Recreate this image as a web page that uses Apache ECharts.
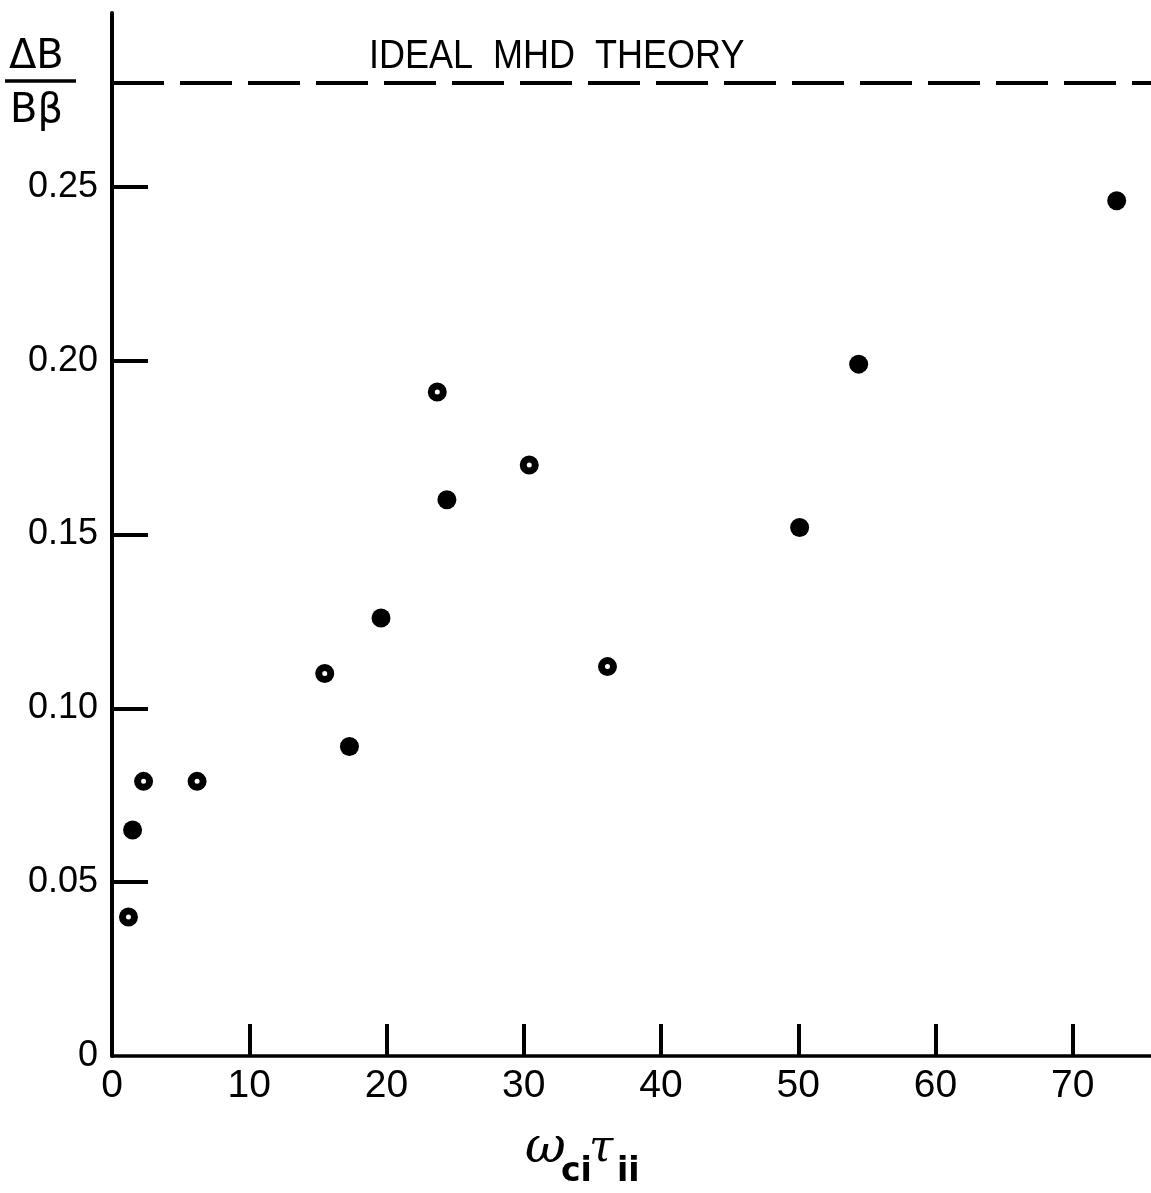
<!DOCTYPE html>
<html lang="en">

<head>
    <meta charset="UTF-8">
    <title>Delta B / B beta vs omega_ci tau_ii</title>
    <script src="https://cdn.jsdelivr.net/npm/echarts@6/dist/echarts.min.js"></script>
    <style>
        body { margin: 0; background: #fff; }
    </style>
</head>

<body>
    <div id="main" style="width: 1151px;height:1193px;"></div>

    <script>
        // filled dots
        let filledX = [1.5, 17.3, 19.6, 24.4, 50.1, 54.4, 73.2];
        let filledY = [0.065, 0.089, 0.126, 0.160, 0.152, 0.199, 0.246];
        // open (ring) dots
        let openX = [1.2, 2.3, 6.2, 15.5, 23.7, 30.4, 36.1];
        let openY = [0.040, 0.079, 0.079, 0.110, 0.191, 0.170, 0.112];

        let xTicks = [0, 10, 20, 30, 40, 50, 60, 70];
        let yTicks = [0, 0.05, 0.10, 0.15, 0.20, 0.25];
        let mhdValue = 0.281; // ideal MHD theory level

        let filledData = filledX.map((x, i) => [x, filledY[i]]);
        let openData = openX.map((x, i) => [x, openY[i]]);

        var myChart = echarts.init(document.getElementById('main'));

        var option = {
            backgroundColor: '#fff',
            animation: false,
            grid: { left: 112, right: 0, top: 13, bottom: 137 },
            xAxis: {
                type: 'value',
                min: 0,
                max: 75.7,
                interval: 10,
                splitLine: { show: false },
                axisLine: { lineStyle: { color: '#000', width: 3.5 } },
                axisTick: {
                    inside: true,
                    length: 32,
                    customValues: xTicks.slice(1),
                    lineStyle: { color: '#000', width: 4 }
                },
                axisLabel: {
                    customValues: xTicks,
                    color: '#000',
                    fontFamily: 'Liberation Sans',
                    fontSize: 39,
                    margin: 11
                }
            },
            yAxis: {
                type: 'value',
                min: 0,
                max: 0.30,
                interval: 0.05,
                splitLine: { show: false },
                axisLine: { lineStyle: { color: '#000', width: 4 } },
                axisTick: {
                    inside: true,
                    length: 36,
                    customValues: yTicks.slice(1),
                    lineStyle: { color: '#000', width: 4 }
                },
                axisLabel: {
                    customValues: yTicks,
                    color: '#000',
                    fontFamily: 'Liberation Sans',
                    fontSize: 36,
                    margin: 14,
                    formatter: function (v) {
                        return v === 0 ? '0' : v.toFixed(2);
                    }
                }
            },
            graphic: [
                // y axis name as a fraction
                { type: 'text', left: 9, top: 38, style: { text: 'ΔB', font: '40px "DejaVu Sans"', fill: '#000' } },
                { type: 'line', shape: { x1: 5, y1: 81, x2: 76, y2: 81 }, style: { stroke: '#000', lineWidth: 3.5 } },
                { type: 'text', left: 10, top: 92, style: { text: 'Bβ', font: '40px "DejaVu Sans"', fill: '#000' } },
                // x axis name
                { type: 'text', left: 525, top: 1124, style: { text: 'ω', font: 'italic 50px "DejaVu Serif"', fill: '#000' } },
                { type: 'text', left: 561, top: 1156, style: { text: 'ci', font: 'bold 33px "DejaVu Sans"', fill: '#000' } },
                { type: 'text', left: 589, top: 1128, style: { text: 'τ', font: 'italic 44px "DejaVu Serif"', fill: '#000' } },
                { type: 'text', left: 617, top: 1156, style: { text: 'ii', font: 'bold 33px "DejaVu Sans"', fill: '#000' } },
                // theory label
                { type: 'text', left: 369, top: 37, scaleX: 0.9, style: { text: 'IDEAL  MHD  THEORY', font: '40px "Liberation Sans"', fill: '#000' } }
            ],
            series: [
                {
                    name: 'filled',
                    type: 'scatter',
                    symbol: 'circle',
                    symbolSize: 19,
                    itemStyle: { color: '#000', opacity: 1 },
                    data: filledData,
                    markLine: {
                        silent: true,
                        symbol: ['none', 'none'],
                        label: { show: false },
                        lineStyle: { color: '#000', width: 4, type: [52, 16] },
                        data: [{ yAxis: mhdValue }]
                    }
                },
                {
                    name: 'open',
                    type: 'scatter',
                    symbol: 'circle',
                    symbolSize: 12,
                    itemStyle: { color: '#fff', borderColor: '#000', borderWidth: 7, opacity: 1 },
                    data: openData
                }
            ]
        };

        myChart.setOption(option);
    </script>
</body>

</html>
